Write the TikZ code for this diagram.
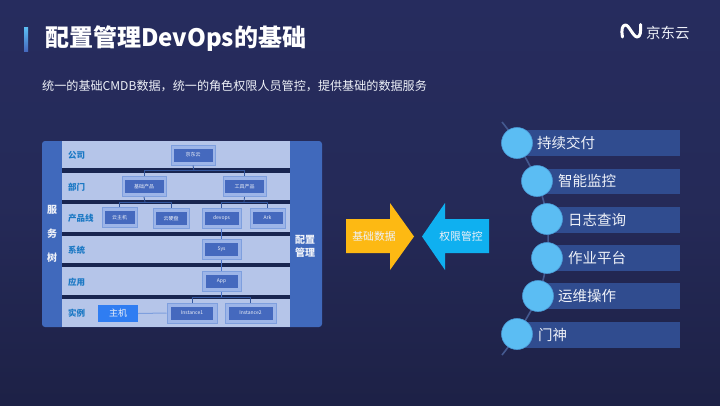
\documentclass[tikz,border=0pt]{standalone}
\usepackage{fontspec}
\setmainfont{Noto Sans CJK SC}
\usetikzlibrary{calc}
\definecolor{bgtop}{HTML}{262C5E}
\definecolor{bgmid}{HTML}{252A58}
\definecolor{bgbot}{HTML}{1D2146}
\definecolor{panelblue}{HTML}{4069BC}
\definecolor{rowlight}{HTML}{B5C5E9}
\definecolor{sepdark}{HTML}{182550}
\definecolor{frameline}{HTML}{7E9FDE}
\definecolor{framefill}{HTML}{9DB5E8}
\definecolor{tagblue}{HTML}{4569BE}
\definecolor{linkblue}{HTML}{4A72C8}
\definecolor{buslink}{HTML}{35589F}
\definecolor{labelblue}{HTML}{1A78C4}
\definecolor{hostblue}{HTML}{2F7DF2}
\definecolor{barblue}{HTML}{304C8F}
\definecolor{dotblue}{HTML}{5BBDF3}
\definecolor{dotedge}{HTML}{4A9AD6}
\definecolor{arcblue}{HTML}{44598F}
\definecolor{yellowarrow}{HTML}{FDB913}
\definecolor{bluearrow}{HTML}{0FB0F0}
\definecolor{softwhite}{HTML}{EEF1F8}
\tikzset{
  framebox/.style={draw=frameline,line width=1pt,fill=framefill,inner sep=0pt},
  tagbox/.style={fill=tagblue,text=softwhite,inner sep=0pt,font=\fontsize{5}{5.5}\selectfont},
  rowlabel/.style={text=labelblue,font=\fontsize{8.5}{9}\selectfont\bfseries,anchor=west,inner sep=0pt},
  sidelabel/.style={text=softwhite,font=\fontsize{10}{13}\selectfont\bfseries,inner sep=0pt,align=center},
  link/.style={draw=linkblue,line width=.8pt},
  buslinkstyle/.style={draw=buslink,line width=.8pt},
  rowbar/.style={fill=barblue},
  dot/.style={circle,fill=dotblue,draw=dotedge,line width=.6pt,minimum size=31pt,inner sep=0pt},
  barlabel/.style={text=softwhite,font=\fontsize{14.5}{15}\selectfont,anchor=west,inner sep=0pt},
  arrowlabel/.style={text=softwhite,font=\fontsize{10.8}{11}\selectfont,inner sep=0pt}
}
\newcommand{\tagnode}[8]{%
  \node[framebox,minimum width=#4pt,minimum height=#5pt] (#1f) at (#2,#3) {};
  \node[tagbox,minimum width=#6pt,minimum height=#7pt] (#1) at (#2,#3) {#8};
}
\begin{document}
\begin{tikzpicture}[x=1pt,y=-1pt]
\useasboundingbox (0,0) rectangle (720,405);
\shade[top color=bgtop,bottom color=bgbot,middle color=bgmid] (0,0) rectangle (720,405);

% title
\shade[top color=dotblue,bottom color=tagblue] (24,27.5) rectangle (28,51);
\node[anchor=west,inner sep=0pt,text=white,font=\fontsize{24}{26}\selectfont\bfseries] (title) at (45,39) {配置管理DevOps的基础};
\node[anchor=west,inner sep=0pt,text=softwhite,font=\fontsize{12.1}{13}\selectfont] (subtitle) at (42,86) {统一的基础CMDB数据，统一的角色权限人员管控，提供基础的数据服务};

% logo
\draw[white,line width=3pt,line join=round,line cap=round]
  (622.5,37) .. controls (621,29) and (622.5,25) .. (625.5,25)
  .. controls (629,25) and (633,36.5) .. (637,37)
  .. controls (640.5,37.5) and (641,31) .. (640.5,24.5);
\node[anchor=west,inner sep=0pt,text=softwhite,font=\fontsize{14.5}{15}\selectfont] (logotext) at (646,33) {京东云};

% left panel
\fill[panelblue,rounded corners=3pt] (42,141) rectangle (322,327);
\fill[sepdark] (62,141) rectangle (290,327);
\foreach \ya/\yb in {141/168,173/200,204/232,236/263,267/295,299/327}
  \fill[rowlight] (62,\ya) rectangle (290,\yb);

\node[rowlabel] (l1) at (68,155) {公司};
\node[rowlabel] (l2) at (68,187) {部门};
\node[rowlabel] (l3) at (68,218) {产品线};
\node[rowlabel] (l4) at (68,250) {系统};
\node[rowlabel] (l5) at (68,282) {应用};
\node[rowlabel] (l6) at (68,313) {实例};

\node[sidelabel] (s1) at (52,210) {服};
\node[sidelabel] (s2) at (52,234) {务};
\node[sidelabel] (s3) at (52,258) {树};
\node[sidelabel] (s4) at (305,246) {配置\\管理};

\tagnode{jd}{193}{155}{44}{20}{39}{13}{京东云}
\tagnode{base}{144}{186.5}{44}{20}{39}{12.5}{基础产品}
\tagnode{tool}{244.5}{186.5}{43}{20}{39}{12.5}{工具产品}
\tagnode{host}{119.5}{217.5}{35}{20}{30}{12.5}{云主机}
\tagnode{disk}{171}{218.5}{36}{20}{31}{12.5}{云硬盘}
\tagnode{devops}{221.5}{218.5}{39}{20}{34}{12.5}{devops}
\tagnode{ark}{267.5}{218}{35}{20}{30}{12.5}{Ark}
\tagnode{sys}{221.5}{249.5}{39}{20}{33}{12.5}{Sys}
\tagnode{app}{221.5}{281.5}{39}{20}{32}{12.5}{App}
\tagnode{inst1}{192}{313}{50}{20}{42}{13}{Instance1}
\tagnode{inst2}{250.5}{313}{51}{20}{44}{13}{Instance2}
\node[fill=hostblue,text=softwhite,minimum width=40pt,minimum height=17pt,inner sep=0pt,font=\fontsize{9}{10}\selectfont] (zhuji) at (118,313.5) {主机};

% connectors
\coordinate (busA) at (194,170.5);
\coordinate (busB) at (145,202);
\coordinate (busC) at (244,202);
\coordinate (busD) at (221.5,297);
\draw[buslinkstyle] (jdf.south) -- (busA);
\draw[buslinkstyle] (busA) -| (basef.north);
\draw[buslinkstyle] (busA) -| (toolf.north);
\draw[buslinkstyle] (basef.south) -- (busB);
\draw[buslinkstyle] (busB) -| (hostf.north);
\draw[buslinkstyle] (busB) -| (diskf.north);
\draw[buslinkstyle] (toolf.south) -- (busC);
\draw[buslinkstyle] (busC) -| (devopsf.north);
\draw[buslinkstyle] (busC) -| (arkf.north);
\draw[link] (devopsf.south) -- (sysf.north);
\draw[link] (sysf.south) -- (appf.north);
\draw[link] (appf.south) -- (busD);
\draw[buslinkstyle] (busD) -| (inst1f.north);
\draw[buslinkstyle] (busD) -| (inst2f.north);
\draw[draw=frameline,line width=1pt] (zhuji.east) -- (inst1f.west);

% middle arrows
\fill[yellowarrow] (346,219) -- (390,219) -- (390,203) -- (414,236.5) -- (390,270) -- (390,253) -- (346,253) -- cycle;
\fill[bluearrow] (489,219) -- (445,219) -- (445,203) -- (422,236.5) -- (445,270) -- (445,253) -- (489,253) -- cycle;
\node[arrowlabel] (aL) at (374,236.5) {基础数据};
\node[arrowlabel] (aR) at (461,236.5) {权限管控};

% right list
\draw[arcblue,line width=1.6pt] plot[smooth,tension=.6] coordinates {(502,122) (517,143) (537,181) (547,219) (547,258) (538,296) (517,334) (502,355)};
\fill[rowbar] (517,130) rectangle (680,156);
\fill[rowbar] (537,168.5) rectangle (680,194);
\fill[rowbar] (547,207) rectangle (680,233);
\fill[rowbar] (547,245) rectangle (680,271);
\fill[rowbar] (538,283) rectangle (680,309);
\fill[rowbar] (517,322) rectangle (680,347.5);
\node[dot] (d1) at (517,143) {};
\node[dot] (d2) at (537,181) {};
\node[dot] (d3) at (547,219) {};
\node[dot] (d4) at (547,258) {};
\node[dot] (d5) at (538,296) {};
\node[dot] (d6) at (517,334) {};
\node[barlabel] (t1) at (537,143) {持续交付};
\node[barlabel] (t2) at (558,181) {智能监控};
\node[barlabel] (t3) at (568,219.5) {日志查询};
\node[barlabel] (t4) at (568,258) {作业平台};
\node[barlabel] (t5) at (558,296.5) {运维操作};
\node[barlabel] (t6) at (538,334.5) {门神};
\end{tikzpicture}
\end{document}
